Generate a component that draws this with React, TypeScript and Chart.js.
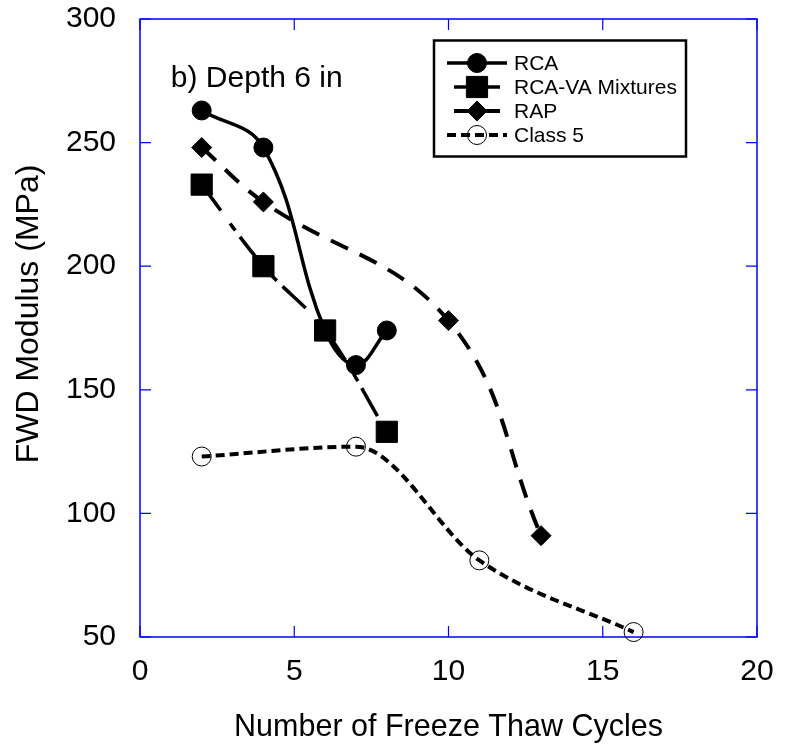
import React, { useEffect, useRef } from 'react';
import { Chart, registerables } from 'chart.js';

Chart.register(...registerables);

// Freeze-thaw cycles (x) and FWD modulus in MPa (y) for each material
const rcaCycles = [2, 4, 6, 7, 8];
const rcaModulus = [263, 248, 174, 160, 174];
const rcaVaCycles = [2, 4, 6, 8];
const rcaVaModulus = [233, 200, 174, 133];
const rapCycles = [2, 4, 10, 13];
const rapModulus = [248, 226, 178, 91];
const class5Cycles = [2, 7, 11, 16];
const class5Modulus = [123, 127, 81, 52];

const seriesNames = ['RCA', 'RCA-VA Mixtures', 'RAP', 'Class 5'];
const xTickValues = [0, 5, 10, 15, 20];
const yTickValues = [50, 100, 150, 200, 250, 300];

const panelLabel = 'b) Depth 6 in';
const xAxisTitle = 'Number of Freeze Thaw Cycles';
const yAxisTitle = 'FWD Modulus (MPa)';

const FONT = '"Liberation Sans", Arial, Helvetica, sans-serif';
const AXIS_BLUE = '#0000ff';

type Marker = 'circle' | 'rect' | 'rectRot';

interface SeriesStyle {
  marker: Marker;
  radius: number;
  filled: boolean;
  lineWidth: number;
  dash: number[];
  smoothing: 'default' | 'monotone';
  legendDash: number[];
  legendHalf: number;
}

const seriesStyles: SeriesStyle[] = [
  { marker: 'circle', radius: 9.5, filled: true, lineWidth: 3.5, dash: [], smoothing: 'default', legendDash: [], legendHalf: 30 },
  { marker: 'rect', radius: 15, filled: true, lineWidth: 3.5, dash: [32, 16, 9, 8], smoothing: 'default', legendDash: [], legendHalf: 23 },
  { marker: 'rectRot', radius: 10, filled: true, lineWidth: 4, dash: [19, 13], smoothing: 'default', legendDash: [], legendHalf: 23 },
  { marker: 'circle', radius: 9.5, filled: false, lineWidth: 4, dash: [9, 5], smoothing: 'monotone', legendDash: [9, 5], legendHalf: 30 },
];

const toPoints = (xs: number[], ys: number[]) => xs.map((x, i) => ({ x, y: ys[i] }));

function drawMarker(ctx: CanvasRenderingContext2D, s: SeriesStyle, x: number, y: number) {
  ctx.beginPath();
  const r = s.radius;
  if (s.marker === 'circle') {
    ctx.arc(x, y, r, 0, Math.PI * 2);
  } else if (s.marker === 'rect') {
    const h = r * Math.SQRT1_2;
    ctx.rect(x - h, y - h, 2 * h, 2 * h);
  } else {
    ctx.moveTo(x - r, y);
    ctx.lineTo(x, y - r);
    ctx.lineTo(x + r, y);
    ctx.lineTo(x, y + r);
    ctx.closePath();
  }
  ctx.setLineDash([]);
  ctx.lineWidth = 1;
  ctx.strokeStyle = '#000';
  if (s.filled) {
    ctx.fillStyle = '#000';
    ctx.fill();
  }
  ctx.stroke();
}

// Blue frame with inward tick marks on all four sides
const framePlugin = {
  id: 'frameTicks',
  beforeDatasetsDraw(chart: any) {
    const { ctx, chartArea: a, scales } = chart;
    ctx.save();
    ctx.strokeStyle = AXIS_BLUE;
    ctx.lineWidth = 1.5;
    ctx.strokeRect(a.left, a.top, a.right - a.left, a.bottom - a.top);
    ctx.lineWidth = 1.2;
    const len = 11;
    ctx.beginPath();
    for (const t of scales.x.ticks) {
      const px = scales.x.getPixelForValue(t.value);
      ctx.moveTo(px, a.bottom);
      ctx.lineTo(px, a.bottom - len);
      ctx.moveTo(px, a.top);
      ctx.lineTo(px, a.top + len);
    }
    for (const t of scales.y.ticks) {
      const py = scales.y.getPixelForValue(t.value);
      ctx.moveTo(a.left, py);
      ctx.lineTo(a.left + len, py);
      ctx.moveTo(a.right, py);
      ctx.lineTo(a.right - len, py);
    }
    ctx.stroke();
    ctx.restore();
  },
};

// Vertical axis title, panel caption and boxed legend
const annotationPlugin = {
  id: 'panelLegend',
  afterDatasetsDraw(chart: any) {
    const { ctx, chartArea: a, scales } = chart;
    ctx.save();

    ctx.save();
    ctx.translate(29, (a.top + a.bottom) / 2 - 14);
    ctx.rotate(-Math.PI / 2);
    ctx.font = `32px ${FONT}`;
    ctx.fillStyle = '#000';
    ctx.textAlign = 'center';
    ctx.textBaseline = 'middle';
    ctx.fillText(yAxisTitle, 0, 0);
    ctx.restore();

    ctx.font = `30px ${FONT}`;
    ctx.fillStyle = '#000';
    ctx.textAlign = 'left';
    ctx.textBaseline = 'alphabetic';
    ctx.fillText(panelLabel, scales.x.getPixelForValue(1), scales.y.getPixelForValue(272.6));

    const boxLeft = a.left + 294;
    const boxTop = a.top + 21.5;
    const boxW = 252;
    const boxH = 116;
    ctx.fillStyle = '#fff';
    ctx.fillRect(boxLeft, boxTop, boxW, boxH);
    ctx.lineWidth = 2.5;
    ctx.strokeStyle = '#000';
    ctx.setLineDash([]);
    ctx.strokeRect(boxLeft, boxTop, boxW, boxH);

    const markerX = boxLeft + 43;
    const textX = boxLeft + 80;
    seriesNames.forEach((name, i) => {
      const s = seriesStyles[i];
      const cy = boxTop + 22.5 + i * 24;
      ctx.beginPath();
      ctx.setLineDash(s.legendDash);
      ctx.lineWidth = s.lineWidth;
      ctx.strokeStyle = '#000';
      ctx.moveTo(markerX - s.legendHalf, cy);
      ctx.lineTo(markerX + s.legendHalf, cy);
      ctx.stroke();
      drawMarker(ctx, s, markerX, cy);
      ctx.font = `21px ${FONT}`;
      ctx.fillStyle = '#000';
      ctx.textBaseline = 'middle';
      ctx.fillText(name, textX, cy + 1);
    });
    ctx.restore();
  },
};

export default function App() {
  const canvasRef = useRef<HTMLCanvasElement | null>(null);

  useEffect(() => {
    if (!canvasRef.current) return;
    Chart.defaults.font.family = FONT;
    Chart.defaults.color = '#000';

    const seriesData = [
      toPoints(rcaCycles, rcaModulus),
      toPoints(rcaVaCycles, rcaVaModulus),
      toPoints(rapCycles, rapModulus),
      toPoints(class5Cycles, class5Modulus),
    ];
    const drawOrder = [1, 0, 2, 3];

    const chart = new Chart(canvasRef.current, {
      type: 'line',
      data: {
        datasets: seriesNames.map((name, i) => {
          const s = seriesStyles[i];
          return {
            label: name,
            data: seriesData[i],
            borderColor: '#000',
            borderWidth: s.lineWidth,
            borderDash: s.dash,
            borderCapStyle: 'butt',
            tension: 0.4,
            cubicInterpolationMode: s.smoothing,
            fill: false,
            pointStyle: s.marker,
            pointRadius: s.radius,
            pointHoverRadius: s.radius,
            pointBorderWidth: 1,
            pointBorderColor: '#000',
            pointBackgroundColor: s.filled ? '#000' : 'rgba(0,0,0,0)',
            clip: false,
            order: drawOrder[i],
          } as any;
        }),
      },
      options: {
        responsive: false,
        animation: false,
        events: [],
        layout: { padding: { top: 19, right: 31, left: 0, bottom: 0 } },
        plugins: {
          legend: { display: false },
          tooltip: { enabled: false },
        },
        scales: {
          x: {
            type: 'linear',
            position: 'bottom',
            min: 0,
            max: 20,
            grid: { display: false },
            border: { display: false },
            afterBuildTicks: (s: any) => {
              s.ticks = xTickValues.map((value) => ({ value }));
            },
            afterFit: (s: any) => {
              s.height = 109;
              s.paddingLeft = 0;
              s.paddingRight = 0;
            },
            ticks: {
              font: { size: 30 },
              color: '#000',
              padding: 9,
              maxRotation: 0,
              autoSkip: false,
            },
            title: {
              display: true,
              text: xAxisTitle,
              color: '#000',
              font: { size: 30.5 },
              padding: { top: 0, bottom: 0.5 },
            },
          },
          y: {
            type: 'linear',
            position: 'left',
            min: 50,
            max: 300,
            grid: { display: false },
            border: { display: false },
            afterBuildTicks: (s: any) => {
              s.ticks = yTickValues.map((value) => ({ value }));
            },
            afterFit: (s: any) => {
              s.width = 140;
              s.paddingTop = 0;
              s.paddingBottom = 0;
            },
            ticks: {
              font: { size: 30 },
              color: '#000',
              padding: 16,
              autoSkip: false,
            },
          },
        },
      },
      plugins: [framePlugin, annotationPlugin],
    });

    return () => chart.destroy();
  }, []);

  return (
    <div style={{ position: 'absolute', left: 0, top: 0, width: 788, height: 746, background: '#fff' }}>
      <canvas ref={canvasRef} width={788} height={746} style={{ display: 'block' }} />
    </div>
  );
}
